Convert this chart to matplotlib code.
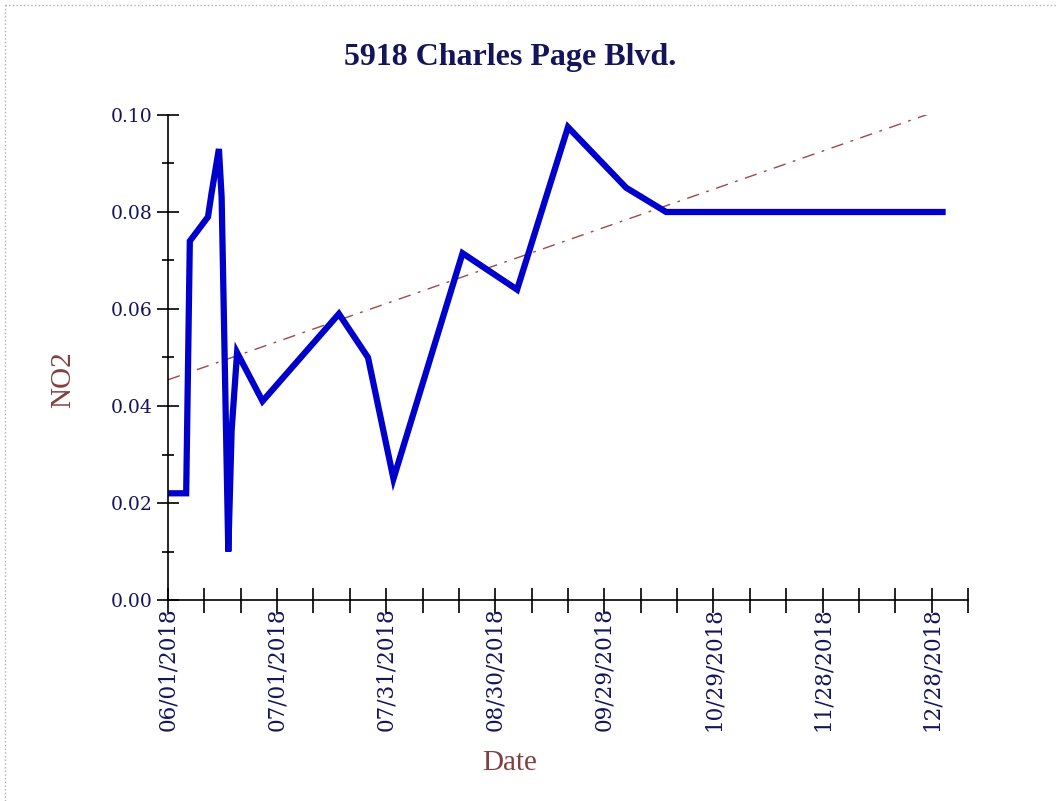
import numpy as np
import pandas as pd
import matplotlib
matplotlib.use('Agg')
import matplotlib.pyplot as plt
import matplotlib.dates as mdates
from matplotlib.lines import Line2D

# NO2 readings
dates = ['2018-06-01 00:00', '2018-06-06 00:00', '2018-06-07 00:00', '2018-06-12 00:00',
         '2018-06-13 00:00', '2018-06-15 00:00', '2018-06-15 18:00', '2018-06-17 14:00',
         '2018-06-18 12:00', '2018-06-20 00:00', '2018-06-27 00:00', '2018-07-18 00:00',
         '2018-07-26 00:00', '2018-08-02 00:00', '2018-08-21 00:00', '2018-09-05 00:00',
         '2018-09-19 00:00', '2018-10-05 00:00', '2018-10-16 00:00', '2018-12-31 00:00']
no2 = [0.022, 0.022, 0.074, 0.079,
       0.084, 0.093, 0.083, 0.010,
       0.035, 0.051, 0.041, 0.059,
       0.050, 0.025, 0.0715, 0.064,
       0.0975, 0.085, 0.080, 0.080]

# trend line end points
trend_dates = ['2018-06-01', '2018-12-31']
trend_vals = [0.0454, 0.1012]

x = pd.to_datetime(dates, format='%Y-%m-%d %H:%M')
xt = pd.to_datetime(trend_dates)

navy = '#14145a'
brown = '#804040'

fig = plt.figure(figsize=(10.58, 8.01), dpi=100)
ax = fig.add_axes([168/1058, 1-600/801, 800/1058, 485/801])

ax.plot(xt, trend_vals, color='#a04848', lw=1.0, dashes=(9, 5.5, 2, 5.5))
ax.plot(x, no2, color='#0000cc', lw=4.5, solid_joinstyle='miter')

start = pd.Timestamp('2018-06-01')
ax.set_xlim(start, start + pd.Timedelta(days=220))
ax.set_ylim(0, 0.10)

major_x = [start + pd.Timedelta(days=d) for d in range(0, 211, 30)]
minor_x = [start + pd.Timedelta(days=d) for d in range(0, 221, 10)]
ax.set_xticks(major_x)
ax.set_xticks(minor_x, minor=True)
ax.xaxis.set_major_formatter(mdates.DateFormatter('%m/%d/%Y'))
ax.set_yticks(np.arange(0, 0.101, 0.02))
ax.set_yticks(np.arange(0, 0.101, 0.01), minor=True)
ax.yaxis.set_major_formatter(plt.FormatStrFormatter('%.2f'))

for s in ['top', 'right']:
    ax.spines[s].set_visible(False)
for s in ['left', 'bottom']:
    ax.spines[s].set_linewidth(1.2)
    ax.spines[s].set_color('black')

ax.tick_params(axis='x', which='both', direction='inout', length=18, width=1.2, pad=-4)
ax.tick_params(axis='x', which='major', labelrotation=90, labelsize=15.5,
               labelcolor=navy, labelfontfamily='DejaVu Serif')
ax.tick_params(axis='y', which='major', direction='inout', length=16.5, width=1.2,
               pad=3, labelsize=13.5, labelcolor=navy, labelfontfamily='DejaVu Serif')
ax.tick_params(axis='y', which='minor', direction='inout', length=8.5, width=1.2)

fig.text(510/1058, 1-57/801, '5918 Charles Page Blvd.', ha='center', va='center',
         fontsize=23, fontweight='bold', color=navy, family='Liberation Serif')
fig.text(63/1058, 1-380/801, 'NO2', rotation=90, ha='center', va='center',
         fontsize=21, color=brown, family='Liberation Serif')
fig.text(510/1058, 1-763/801, 'Date', ha='center', va='center',
         fontsize=21, color=brown, family='Liberation Serif')

# dotted frame of the original picture
fig.add_artist(Line2D([5/1058, 1], [1-5/801, 1-5/801], transform=fig.transFigure,
                      color='#b0b0b0', lw=1, ls=':'))
fig.add_artist(Line2D([5/1058, 5/1058], [0, 1-5/801], transform=fig.transFigure,
                      color='#b0b0b0', lw=1, ls=':'))

fig.savefig('out.png', dpi=100)
